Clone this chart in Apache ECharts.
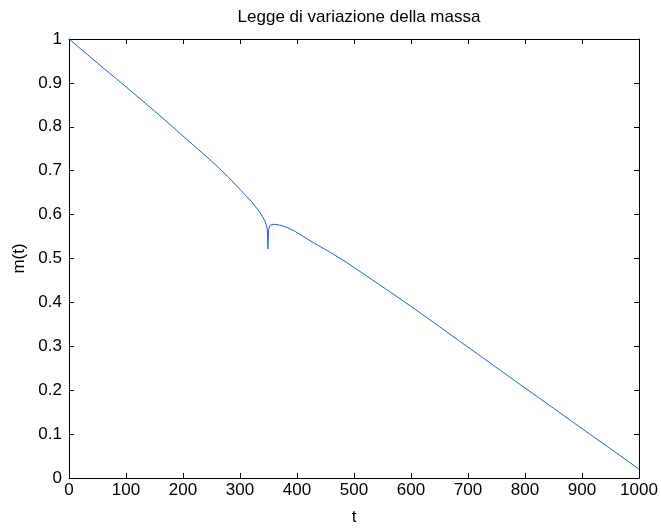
<!DOCTYPE html>
<html>
<head>
<meta charset="utf-8">
<script src="https://cdn.jsdelivr.net/npm/echarts@6/dist/echarts.min.js"></script>
<style>
  html, body { margin: 0; padding: 0; background: #fff; }
  #chart { width: 661px; height: 531px; }
</style>
</head>
<body>
<div id="chart"></div>
<script>
// Time samples and mass values m(t)
const tValues = [0, 50, 100, 150, 200, 250, 280, 300, 320, 335, 344, 348, 349, 350, 353, 360, 370, 382, 395, 410, 430, 460, 487, 545, 600, 640, 700, 756, 800, 850, 908, 967, 1000];
const mValues = [1, 0.945, 0.891, 0.836, 0.779, 0.722, 0.685, 0.657, 0.630, 0.605, 0.585, 0.567, 0.522, 0.566, 0.576, 0.578, 0.576, 0.571, 0.563, 0.551, 0.535, 0.513, 0.491, 0.440, 0.391, 0.354, 0.298, 0.246, 0.205, 0.159, 0.105, 0.051, 0.020];

const xTicks = [0, 100, 200, 300, 400, 500, 600, 700, 800, 900, 1000];
const yTicks = [0, 0.1, 0.2, 0.3, 0.4, 0.5, 0.6, 0.7, 0.8, 0.9, 1];

const titleText = 'Legge di variazione della massa';
const xName = 't';
const yName = 'm(t)';

const FONT = 'Liberation Sans, Arial, Helvetica, sans-serif';
const points = tValues.map((t, i) => [t, mValues[i]]);

const tickStyle = { show: true, inside: true, length: 5, lineStyle: { color: '#000', width: 1 } };
const lineStyle = { show: true, onZero: false, lineStyle: { color: '#000', width: 1 } };

const chart = echarts.init(document.getElementById('chart'), null, { renderer: 'canvas' });
chart.setOption({
  backgroundColor: '#fff',
  animation: false,
  title: {
    text: titleText,
    left: 354, top: 4, textAlign: 'center',
    textStyle: { fontFamily: FONT, fontSize: 17, fontWeight: 'normal', color: '#000' }
  },
  grid: { left: 69, right: 22, top: 39, bottom: 42, containLabel: false },
  xAxis: [
    {
      type: 'value', min: xTicks[0], max: xTicks[xTicks.length - 1], interval: 100,
      position: 'bottom',
      name: xName, nameLocation: 'middle', nameGap: 31,
      nameTextStyle: { fontFamily: FONT, fontSize: 17, color: '#000' },
      axisLine: lineStyle, axisTick: tickStyle,
      axisLabel: { fontFamily: FONT, fontSize: 17, color: '#000', margin: 4,
        formatter: v => String(v) },
      splitLine: { show: false }
    },
    {
      type: 'value', min: xTicks[0], max: xTicks[xTicks.length - 1], interval: 100,
      position: 'top',
      axisLine: lineStyle, axisTick: tickStyle,
      axisLabel: { show: false }, splitLine: { show: false }
    }
  ],
  yAxis: [
    {
      type: 'value', min: yTicks[0], max: yTicks[yTicks.length - 1], interval: 0.1,
      position: 'left',
      name: yName, nameLocation: 'middle', nameGap: 40, nameRotate: 90,
      nameTextStyle: { fontFamily: FONT, fontSize: 17, color: '#000' },
      axisLine: lineStyle, axisTick: tickStyle,
      axisLabel: { fontFamily: FONT, fontSize: 17, color: '#000', margin: 7,
        formatter: v => String(Math.round(v * 10) / 10) },
      splitLine: { show: false }
    },
    {
      type: 'value', min: yTicks[0], max: yTicks[yTicks.length - 1], interval: 0.1,
      position: 'right',
      axisLine: lineStyle, axisTick: tickStyle,
      axisLabel: { show: false }, splitLine: { show: false }
    }
  ],
  series: [{
    type: 'line',
    data: points,
    xAxisIndex: 0, yAxisIndex: 0,
    showSymbol: false, symbol: 'none',
    lineStyle: { color: '#1f5cff', width: 1 },
    smooth: false
  }]
});
</script>
</body>
</html>
